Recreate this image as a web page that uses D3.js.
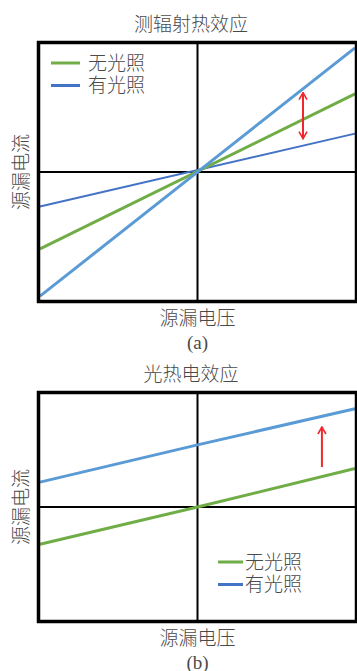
<!DOCTYPE html>
<html>
<head>
<meta charset="utf-8">
<script src="https://cdn.jsdelivr.net/npm/d3@7"></script>
<style>
  html, body { margin: 0; padding: 0; background: #fff; }
  svg { display: block; }
  text { font-family: "Noto Sans CJK SC", "Noto Sans", sans-serif; fill: #4a4a4a; font-weight: 300; }
  text.legend { font-family: "Liberation Serif", "Noto Sans CJK SC", serif; }
</style>
</head>
<body>
<svg id="chart" width="357" height="671"></svg>
<script>
// Normalised source-drain voltage at the sample points
const voltageEnds = [-1, 1];
const voltageThree = [-1, 0, 1];

// Panel (a): bolometric effect – currents through the origin
const aDark = [-0.60, 0.61];      // 无光照
const aLightSteep = [-0.97, 0.97]; // light-on, high conductance
const aLightFlat = [-0.27, 0.30];  // light-on, low conductance
const aArrowX = 0.67;
const aArrowY = [0.26, 0.62];

// Panel (b): photothermoelectric effect – offset current
const bDark = [-0.33, 0.0, 0.34];
const bLight = [0.22, 0.55, 0.87];
const bArrowX = 0.79;
const bArrowY = [0.354, 0.708];

const legendLabels = ["无光照", "有光照"];
const titles = ["测辐射热效应", "光热电效应"];
const xLabel = "源漏电压";
const yLabel = "源漏电流";
const panelTags = ["(a)", "(b)"];

const GREEN = "#70ad47", LBLUE = "#5b9bd5", DBLUE = "#4472c4", RED = "#f0282d";

const svg = d3.select("#chart");
const defs = svg.append("defs");
defs.append("marker").attr("id", "head")
  .attr("viewBox", "0 0 10 10").attr("refX", 9).attr("refY", 5)
  .attr("markerWidth", 10).attr("markerHeight", 10).attr("markerUnits", "userSpaceOnUse")
  .attr("orient", "auto-start-reverse")
  .append("path").attr("d", "M2,1 L9,5 L2,9").attr("fill", "none")
  .attr("stroke", RED).attr("stroke-width", 1.6);

function panel(cfg) {
  const x = d3.scaleLinear([-1, 1], [cfg.left, cfg.right]);
  const y = d3.scaleLinear([-1, 1], [cfg.bottom, cfg.top]);
  const g = svg.append("g");

  g.append("text").attr("x", 191).attr("y", cfg.titleY)
    .attr("text-anchor", "middle").attr("dominant-baseline", "central")
    .style("font-size", "19px").text(cfg.title);

  // zero axes
  g.append("line").attr("x1", x(0)).attr("x2", x(0)).attr("y1", y(1)).attr("y2", y(-1))
    .attr("stroke", "#000").attr("stroke-width", 2);
  g.append("line").attr("x1", x(-1)).attr("x2", x(1)).attr("y1", y(0)).attr("y2", y(0))
    .attr("stroke", "#000").attr("stroke-width", 2);

  const line = d3.line().x(d => x(d[0])).y(d => y(d[1]));
  cfg.series.forEach(s => {
    g.append("path").datum(d3.zip(s.xs, s.ys)).attr("d", line)
      .attr("fill", "none").attr("stroke", s.color).attr("stroke-width", s.w);
  });

  // red arrow
  g.append("line")
    .attr("x1", x(cfg.arrowX)).attr("x2", x(cfg.arrowX))
    .attr("y1", y(cfg.arrowY[0])).attr("y2", y(cfg.arrowY[1]))
    .attr("stroke", RED).attr("stroke-width", 2)
    .attr("marker-end", "url(#head)")
    .attr("marker-start", cfg.doubleArrow ? "url(#head)" : null);

  // frame
  g.append("rect").attr("x", cfg.left - 1.5).attr("y", cfg.top - 1.5)
    .attr("width", cfg.right - cfg.left + 3).attr("height", cfg.bottom - cfg.top + 3)
    .attr("fill", "none").attr("stroke", "#000").attr("stroke-width", 3.5);

  // legend
  const rowGap = 22.5;
  cfg.legend.forEach((L, i) => {
    const ly = cfg.legendY + i * rowGap;
    g.append("line").attr("x1", cfg.legendX).attr("x2", cfg.legendX + cfg.legendLen)
      .attr("y1", ly).attr("y2", ly).attr("stroke", L.color).attr("stroke-width", 3);
    g.append("text").attr("class", "legend")
      .attr("x", cfg.legendX + cfg.legendLen + cfg.legendGap).attr("y", ly + 6.5)
      .style("font-size", "19px").text(L.label);
  });

  // axis titles
  g.append("text").attr("transform", `translate(19,${y(0)}) rotate(-90)`)
    .attr("text-anchor", "middle").attr("dominant-baseline", "central")
    .style("font-size", "19px").text(yLabel);
  g.append("text").attr("x", x(0)).attr("y", cfg.bottom + 16)
    .attr("text-anchor", "middle").attr("dominant-baseline", "central")
    .style("font-size", "19px").text(xLabel);
  g.append("text").attr("x", x(0)).attr("y", cfg.bottom + 42)
    .attr("text-anchor", "middle").attr("dominant-baseline", "central")
    .style("font-family", "'Liberation Serif', serif").style("font-size", "19px").text(cfg.tag);
}

panel({
  left: 40, right: 355, top: 44, bottom: 300, titleY: 22, title: titles[0], tag: panelTags[0],
  series: [
    { xs: voltageEnds, ys: aLightFlat, color: DBLUE, w: 2 },
    { xs: voltageEnds, ys: aDark, color: GREEN, w: 3 },
    { xs: voltageEnds, ys: aLightSteep, color: LBLUE, w: 3 }
  ],
  arrowX: aArrowX, arrowY: aArrowY, doubleArrow: true,
  legend: [{ label: legendLabels[0], color: GREEN }, { label: legendLabels[1], color: DBLUE }],
  legendX: 51, legendLen: 29, legendGap: 8, legendY: 63
});

panel({
  left: 40, right: 355, top: 394, bottom: 620, titleY: 372, title: titles[1], tag: panelTags[1],
  series: [
    { xs: voltageThree, ys: bDark, color: GREEN, w: 3 },
    { xs: voltageThree, ys: bLight, color: LBLUE, w: 3 }
  ],
  arrowX: bArrowX, arrowY: bArrowY, doubleArrow: false,
  legend: [{ label: legendLabels[0], color: GREEN }, { label: legendLabels[1], color: DBLUE }],
  legendX: 218, legendLen: 25, legendGap: 2, legendY: 562
});
</script>
</body>
</html>
